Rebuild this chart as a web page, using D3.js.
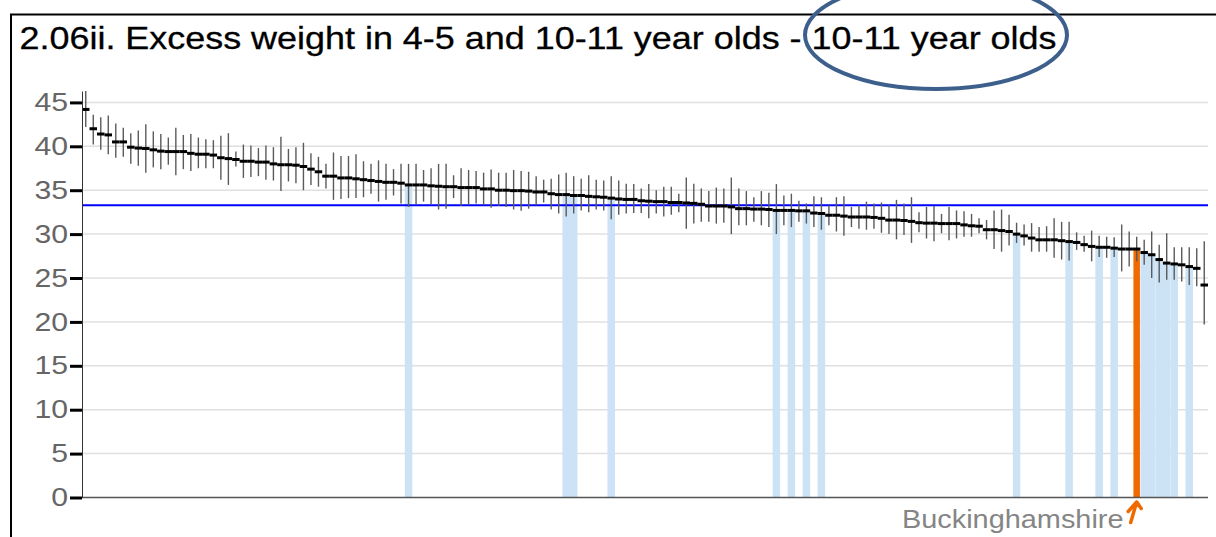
<!DOCTYPE html>
<html>
<head>
<meta charset="utf-8">
<script src="https://cdn.jsdelivr.net/npm/d3@7"></script>
<style>
  html, body { margin: 0; padding: 0; background: #ffffff; }
  svg { display: block; }
  text { font-family: "Liberation Sans", Arial, sans-serif; }
</style>
</head>
<body>
<svg id="chart" width="1216" height="537"></svg>
<script>
// ---------- DATA ----------
const titleText = "2.06ii. Excess weight in 4-5 and 10-11 year olds - 10-11 year olds";

// Upper-tier local authorities, sorted by value (descending); only one is named on the chart
const highlightName = "Buckinghamshire";
const highlightRank = 141; // 1-based rank of Buckinghamshire

const values = [
  44.2, 42.0, 41.4, 41.3, 40.5, 40.5, 39.9, 39.8, 39.75, 39.6,
  39.45, 39.4, 39.4, 39.4, 39.2, 39.1, 39.1, 39.0, 38.7, 38.6,
  38.5, 38.3, 38.3, 38.2, 38.2, 38.0, 37.9, 37.9, 37.85, 37.7,
  37.4, 37.1, 36.6, 36.6, 36.4, 36.4, 36.3, 36.2, 36.1, 36.0,
  35.9, 35.9, 35.8, 35.6, 35.6, 35.6, 35.5, 35.45, 35.4, 35.4,
  35.3, 35.3, 35.3, 35.15, 35.15, 35.0, 35.0, 34.95, 34.95, 34.9,
  34.8, 34.8, 34.6, 34.5, 34.5, 34.4, 34.4, 34.3, 34.25, 34.2,
  34.1, 34.0, 33.95, 33.95, 33.8, 33.75, 33.7, 33.7, 33.6, 33.6,
  33.55, 33.5, 33.4, 33.2, 33.2, 33.2, 33.1, 32.9, 32.9, 32.85,
  32.85, 32.8, 32.7, 32.7, 32.7, 32.65, 32.65, 32.4, 32.35, 32.15,
  32.15, 32.05, 31.95, 31.95, 31.95, 31.9, 31.8, 31.6, 31.6, 31.55,
  31.45, 31.3, 31.25, 31.25, 31.2, 31.2, 31.2, 31.05, 30.95, 30.9,
  30.5, 30.5, 30.4, 30.3, 30.0, 29.8, 29.55, 29.35, 29.35, 29.35,
  29.25, 29.15, 29.05, 28.8, 28.6, 28.5, 28.5, 28.4, 28.3, 28.3,
  28.3, 27.9, 27.65, 27.1, 26.7, 26.6, 26.5, 26.3, 26.1, 24.2
];

const lowerCI = [
  42.2, 40.2, 39.6, 39.1, 38.7, 38.8, 38.0, 37.8, 37.0, 37.6,
  37.4, 37.9, 36.7, 37.4, 37.2, 37.5, 37.5, 37.5, 36.2, 35.6,
  37.7, 36.4, 36.5, 36.6, 36.2, 36.1, 34.9, 36.0, 35.8, 35.0,
  35.6, 35.4, 35.2, 33.9, 34.0, 34.1, 34.1, 34.2, 34.6, 33.7,
  33.9, 34.4, 33.5, 33.1, 33.4, 33.7, 33.4, 32.8, 32.9, 34.1,
  33.2, 33.3, 33.5, 33.3, 33.0, 33.2, 33.1, 32.8, 32.65, 32.9,
  33.3, 33.6, 32.8, 32.35, 32.0, 32.35, 32.7, 32.5, 32.8, 32.7,
  31.7, 32.2, 32.35, 32.4, 32.4, 31.8, 32.35, 32.0, 32.2, 32.5,
  30.6, 31.2, 31.4, 31.4, 31.2, 31.3, 30.0, 31.0, 31.0, 31.4,
  31.0, 30.8, 30.0, 31.0, 30.8, 31.4, 31.2, 30.8, 30.5, 31.0,
  30.3, 29.8, 30.8, 30.6, 30.5, 30.6, 30.15, 30.0, 29.4, 29.9,
  29.0, 30.2, 29.5, 29.2, 30.1, 29.3, 29.5, 29.7, 29.7, 30.1,
  29.4, 28.3, 28.0, 28.7, 29.0, 28.7, 28.0, 28.0, 28.0, 27.3,
  27.1, 27.0, 28.2, 28.0, 26.9, 27.4, 27.3, 27.4, 25.75, 26.3,
  26.9, 26.5, 25.0, 24.5, 24.8, 24.8, 24.6, 24.2, 24.05, 19.7
];

const upperCI = [
  46.3, 43.6, 43.3, 43.5, 42.6, 42.1, 41.5, 41.8, 42.5, 41.7,
  41.4, 41.0, 42.1, 41.3, 41.4, 41.0, 40.8, 40.7, 41.2, 41.5,
  39.4, 40.2, 40.1, 39.8, 40.1, 39.9, 41.1, 39.7, 39.9, 40.4,
  39.2, 38.8, 38.0, 39.3, 38.9, 38.9, 39.1, 38.3, 38.0, 38.4,
  38.0, 37.4, 38.0, 38.0, 38.0, 37.3, 37.5, 38.0, 38.0, 36.7,
  37.5, 37.3, 37.2, 37.0, 37.35, 37.0, 37.0, 37.3, 37.2, 37.1,
  36.6, 36.2, 36.3, 36.8, 37.0, 36.6, 36.3, 36.7, 36.2, 36.1,
  36.6, 36.1, 35.75, 35.7, 35.2, 35.7, 35.0, 35.4, 35.4, 34.6,
  36.45, 35.75, 35.2, 34.9, 35.3, 35.2, 36.45, 35.2, 34.9, 34.2,
  34.9, 34.7, 35.7, 34.4, 34.6, 33.8, 33.5, 34.3, 34.2, 33.3,
  34.2, 34.3, 33.1, 33.3, 33.7, 33.5, 33.6, 33.3, 33.9, 33.5,
  34.2, 32.5, 33.1, 33.2, 32.3, 33.1, 32.7, 32.6, 32.3, 31.8,
  31.6, 32.7, 32.8, 32.2, 31.3, 31.1, 31.25, 30.8, 30.9, 31.8,
  31.4, 31.4, 30.2, 29.8, 30.4, 29.8, 29.7, 29.65, 31.1, 30.3,
  29.7, 29.35, 30.3, 28.8, 30.1, 28.5, 28.5, 28.5, 28.4, 29.2
];

// Ranks (1-based) of the comparator areas shaded light blue
const comparatorRanks = [44, 65, 66, 71, 93, 95, 97, 99, 125, 132, 136, 138, 142, 143, 144, 145, 146, 148];

const englandValue = 33.3;
const yTicks = [0, 5, 10, 15, 20, 25, 30, 35, 40, 45];
const yMax = 46.3;

// categories: rank labels of areas (names not shown except the highlighted one)
const categories = values.map((v, i) => (i + 1 === highlightRank ? highlightName : "Area " + (i + 1)));

// ---------- STYLES / LAYOUT ----------
const W = 1216, H = 537;
const plot = { left: 82, right: 1208, top: 91, bottom: 497.5 };
const colors = {
  grid: "#e0e0e0",
  comparator: "#cce2f5",
  highlight: "#ef6a00",
  england: "#0000ff",
  errorBar: "#5a5a5a",
  point: "#000000",
  tickLabel: "#666666",
  areaLabel: "#858585",
  ellipse: "#3d5f8c"
};

const svg = d3.select("#chart");

const x = d3.scaleBand().domain(categories).range([plot.left, plot.right]).padding(0);
const y = d3.scaleLinear().domain([0, yMax]).range([plot.bottom, plot.top]);

// frame (left + top border)
svg.append("path")
  .attr("d", `M11,${H} V14.5 H${W}`)
  .attr("fill", "none").attr("stroke", "#000").attr("stroke-width", 2);

// title
svg.append("text")
  .attr("x", 19.5).attr("y", 49)
  .attr("font-size", 31.5)
  .attr("fill", "#000")
  .attr("stroke", "#000").attr("stroke-width", 0.3)
  .attr("textLength", 1037)
  .attr("lengthAdjust", "spacingAndGlyphs")
  .text(titleText);

// gridlines
svg.append("g").selectAll("line")
  .data(yTicks.filter(t => t > 0))
  .join("line")
  .attr("x1", plot.left).attr("x2", plot.right)
  .attr("y1", d => y(d)).attr("y2", d => y(d))
  .attr("stroke", colors.grid).attr("stroke-width", 1.5);

// comparator bars
const compSet = new Set(comparatorRanks);
svg.append("g").selectAll("rect")
  .data(categories.map((c, i) => ({ c, v: values[i], rank: i + 1 })).filter(d => compSet.has(d.rank)))
  .join("rect")
  .attr("x", d => x(d.c)).attr("width", x.bandwidth())
  .attr("y", d => y(d.v)).attr("height", d => y(0) - y(d.v))
  .attr("fill", colors.comparator);

// highlighted area bar
const hi = highlightRank - 1;
svg.append("rect")
  .attr("x", x(categories[hi]) + 0.5).attr("width", x.bandwidth() - 1)
  .attr("y", y(values[hi])).attr("height", y(0) - y(values[hi]))
  .attr("fill", colors.highlight);

// England line
svg.append("line")
  .attr("x1", plot.left).attr("x2", plot.right)
  .attr("y1", y(englandValue)).attr("y2", y(englandValue))
  .attr("stroke", colors.england).attr("stroke-width", 2);

// error bars
svg.append("g").selectAll("line")
  .data(categories.map((c, i) => ({ c, lo: lowerCI[i], hi: upperCI[i] })))
  .join("line")
  .attr("x1", d => x(d.c) + x.bandwidth() / 2).attr("x2", d => x(d.c) + x.bandwidth() / 2)
  .attr("y1", d => y(d.lo)).attr("y2", d => y(d.hi))
  .attr("stroke", colors.errorBar).attr("stroke-width", 1.4);

// point markers
svg.append("g").selectAll("line")
  .data(categories.map((c, i) => ({ c, v: values[i] })))
  .join("line")
  .attr("x1", d => x(d.c)).attr("x2", d => x(d.c) + x.bandwidth())
  .attr("y1", d => y(d.v)).attr("y2", d => y(d.v))
  .attr("stroke", colors.point).attr("stroke-width", 3);

// baseline
svg.append("line")
  .attr("x1", plot.left).attr("x2", plot.right)
  .attr("y1", y(0)).attr("y2", y(0))
  .attr("stroke", "#555").attr("stroke-width", 1.5);

// y axis
const yAxis = d3.axisLeft(y).tickValues(yTicks).tickSize(12).tickSizeOuter(0).tickPadding(2);
const gy = svg.append("g").attr("transform", `translate(${plot.left},0)`).call(yAxis);
gy.select(".domain").attr("stroke", "#333").attr("stroke-width", 1);
gy.selectAll(".tick line").attr("stroke", "#000").attr("stroke-width", 3);
gy.selectAll(".tick text")
  .attr("fill", colors.tickLabel)
  .attr("font-size", 25.5)
  .attr("font-family", "'Liberation Sans', Arial, sans-serif")
  .attr("textLength", d => 16.8 * String(d).length)
  .attr("lengthAdjust", "spacingAndGlyphs");

// highlighted area label + arrow
svg.append("text")
  .attr("x", 1123.5).attr("y", 528)
  .attr("text-anchor", "end")
  .attr("font-size", 25)
  .attr("fill", colors.areaLabel)
  .attr("textLength", 221.5)
  .attr("lengthAdjust", "spacingAndGlyphs")
  .text(highlightName);

const ax = x(categories[hi]) + x.bandwidth() / 2;
svg.append("path")
  .attr("d", `M${ax - 6},522.5 L${ax},502 M${ax - 8.5},511.5 L${ax},502 L${ax + 4.5},508.5`)
  .attr("fill", "none").attr("stroke", colors.highlight)
  .attr("stroke-width", 3.5).attr("stroke-linecap", "round").attr("stroke-linejoin", "round");

// annotation ellipse around the sub-title
svg.append("ellipse")
  .attr("cx", 936).attr("cy", 35).attr("rx", 131).attr("ry", 54)
  .attr("fill", "none").attr("stroke", colors.ellipse).attr("stroke-width", 4);
</script>
</body>
</html>
